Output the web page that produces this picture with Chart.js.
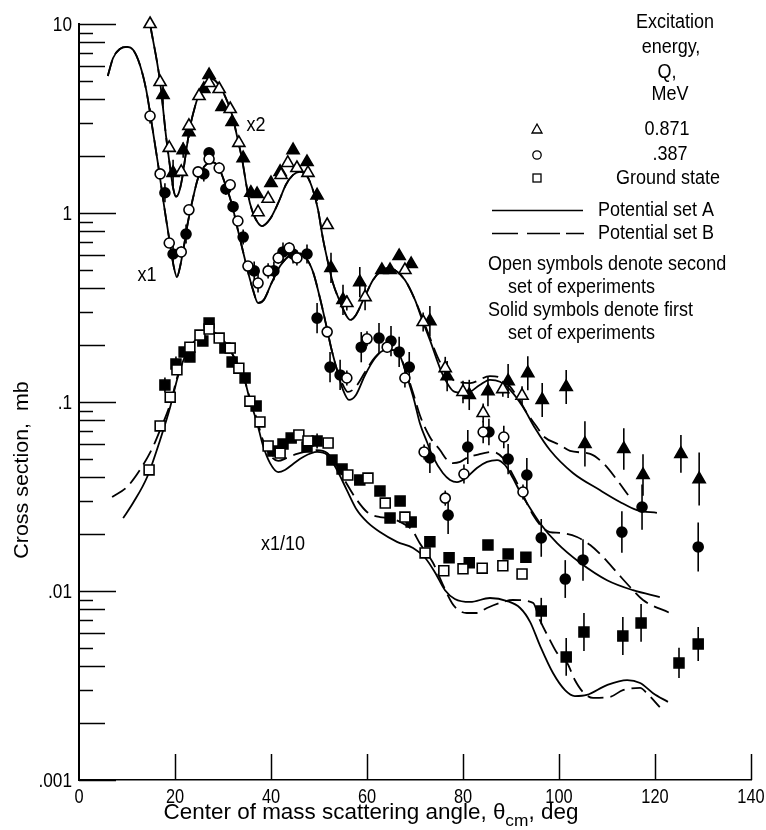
<!DOCTYPE html>
<html>
<head>
<meta charset="utf-8">
<script src="https://cdn.jsdelivr.net/npm/chart.js@4.4.0/dist/chart.umd.min.js"></script>
<style>
  html, body { margin: 0; padding: 0; background: #fff; }
</style>
</head>
<body>
<canvas id="crossSection" width="766" height="830"></canvas>
<script>
var FONT = "'Liberation Sans', Arial, sans-serif";

// tick labels
var xTicks = [0, 20, 40, 60, 80, 100, 120, 140];
var yTickValues = [0.001, 0.01, 0.1, 1, 10];
var yTickLabels = [".001", ".01", ".1", "1", "10"];

// measured points: [angle deg, cross section mb, error half-width in decades]
// Q = 0.871 MeV (plotted x2)
var triOpen = [[14.8,10,0],[16.9,4.93,0],[18.8,2.21,0],[21.3,1.65,0],[22.9,2.89,0],[25.0,4.16,0],
  [27.1,4.87,0],[29.2,4.53,0],[31.5,3.55,0],[33.3,2.35,0],[37.3,1.01,0],[39.4,1.19,0],[42.1,1.59,0],
  [43.5,1.84,0],[45.4,1.73,0],[47.7,1.63,0],[51.7,0.864,0],[55.8,0.334,0.04],[59.6,0.359,0.07],
  [67.9,0.499,0],[71.7,0.265,0.05],[76.3,0.151,0.06],[80.0,0.113,0.06],[84.2,0.0875,0.05],
  [88.3,0.117,0.04],[92.3,0.108,0.05]];
var triSolid = [[17.5,4.21,0.05],[19.6,1.63,0.07],[21.7,2.15,0.04],[22.9,2.68,0.03],[26.0,4.53,0],
  [27.1,5.37,0],[29.8,3.64,0],[31.9,3.03,0],[34.2,1.95,0],[35.8,1.28,0],[37.1,1.26,0],[40.0,1.44,0],
  [41.9,1.65,0],[44.6,2.15,0],[47.5,1.86,0],[49.6,1.24,0.03],[52.5,0.512,0.08],[55.0,0.347,0.08],
  [58.5,0.431,0.08],[63.1,0.499,0],[64.8,0.499,0],[66.7,0.592,0],[69.2,0.537,0],[73.1,0.268,0.08],
  [76.7,0.137,0.08],[81.3,0.109,0.08],[85.2,0.114,0.08],[89.4,0.129,0.09],[93.5,0.142,0.09],
  [96.5,0.1025,0.09],[101.5,0.120,0.09],[105.4,0.0600,0.12],[113.5,0.0564,0.11],[117.5,0.0411,0.11],
  [125.4,0.0531,0.1],[129.2,0.0391,0.14]];

// Q = 0.387 MeV (plotted x1)
var circOpen = [[14.8,3.26,0.04],[16.9,1.61,0],[18.8,0.694,0],[21.3,0.622,0.03],[22.9,1.04,0],
  [24.8,1.65,0],[27.1,1.93,0],[29.2,1.73,0.03],[31.5,1.41,0],[33.1,0.907,0],[35.2,0.524,0],
  [37.3,0.426,0.05],[39.4,0.494,0.04],[41.5,0.578,0.03],[43.8,0.653,0.03],[45.4,0.578,0.04],
  [51.7,0.235,0],[55.8,0.134,0.04],[60.0,0.216,0.04],[64.2,0.195,0.03],[67.9,0.134,0.05],
  [71.9,0.0544,0.04],[76.3,0.0310,0.04],[80.2,0.0416,0.05],[84.2,0.0694,0.06],[88.5,0.0653,0.06],
  [92.5,0.0334,0.04]];
var circSolid = [[17.9,1.28,0.05],[19.6,0.607,0.05],[22.3,0.774,0.05],[26.0,1.61,0.04],[27.1,2.08,0],
  [30.6,1.34,0.03],[32.1,1.08,0.03],[34.2,0.746,0.04],[36.5,0.494,0.05],[40.6,0.494,0.05],
  [42.5,0.622,0.05],[44.6,0.607,0.05],[47.5,0.607,0.05],[49.6,0.278,0.08],[52.3,0.153,0.08],
  [54.4,0.139,0.08],[58.8,0.195,0.08],[62.5,0.218,0.08],[65.0,0.210,0.08],[66.7,0.184,0.08],
  [68.8,0.153,0.08],[73.1,0.0506,0.08],[76.9,0.0252,0.1],[81.0,0.0578,0.09],[85.4,0.0694,0.07],
  [89.4,0.0499,0.08],[93.3,0.0411,0.09],[96.3,0.0191,0.1],[101.3,0.01157,0.1],[105.0,0.0146,0.11],
  [113.1,0.0205,0.11],[117.3,0.0278,0.12],[129.0,0.0171,0.13]];

// ground state (plotted x1/10)
var sqOpen = [[14.6,0.0437,0],[16.9,0.0747,0],[19.0,0.106,0],[20.4,0.148,0],[23.1,0.195,0],
  [25.2,0.226,0],[27.1,0.243,0],[29.2,0.218,0],[31.5,0.193,0],[33.3,0.151,0],[35.6,0.101,0],
  [37.7,0.0784,0],[39.4,0.0585,0],[41.9,0.0537,0],[45.8,0.0669,0],[47.7,0.0622,0],[51.9,0.0607,0],
  [56.0,0.0411,0],[60.2,0.0396,0],[63.8,0.0292,0],[67.9,0.0246,0],[72.1,0.0159,0],[76.0,0.0128,0],
  [80.0,0.0131,0],[84.0,0.0132,0],[88.3,0.0136,0],[92.3,0.0123,0]];
var sqSolid = [[17.9,0.123,0.04],[20.2,0.159,0.04],[21.9,0.184,0],[23.1,0.173,0],[25.8,0.210,0],
  [27.1,0.262,0],[30.4,0.193,0],[31.9,0.163,0],[34.6,0.134,0],[36.9,0.0952,0],[40.4,0.0551,0.03],
  [42.5,0.0600,0],[44.2,0.0645,0],[47.5,0.0578,0],[49.6,0.0622,0.04],[52.7,0.0493,0],[54.8,0.0442,0],
  [58.5,0.0387,0],[62.7,0.0338,0],[64.8,0.0243,0],[66.9,0.0299,0],[69.2,0.0232,0],[73.1,0.0182,0],
  [77.1,0.0150,0],[81.3,0.0141,0],[85.2,0.0175,0],[89.4,0.0157,0],[93.1,0.0151,0],[96.3,0.00783,0.07],
  [101.5,0.00448,0.1],[105.2,0.00607,0.1],[113.3,0.00578,0.1],[117.1,0.00678,0.1],[125.0,0.00416,0.08],
  [129.0,0.00525,0.09]];

// calculated curves: [angle deg, cross section mb]
var triSetA = [[14.8,10],[16.9,4.93],[18.1,2.59],[19.0,1.73],[19.6,1.36],[20.2,1.22],[20.8,1.28],
  [21.5,1.53],[22.3,2.10],[23.1,2.82],[24.2,3.68],[25.2,4.37],[26.5,4.93],[27.7,5.12],[29.0,4.81],
  [30.4,4.16],[31.9,3.30],[33.1,2.43],[34.0,1.91],[34.8,1.44],[35.6,1.13],[36.7,0.941],[38.1,0.853],
  [39.8,0.929],[41.5,1.13],[43.1,1.41],[44.6,1.59],[46.0,1.65],[47.5,1.57],[48.75,1.32],[49.8,1.04],
  [50.8,0.737],[51.9,0.544],[52.9,0.426],[54.4,0.338],[55.6,0.289],[56.5,0.272],[57.7,0.289],
  [59.6,0.364],[61.25,0.442],[62.7,0.488],[64.4,0.512],[65.8,0.499],[67.9,0.442],[70.0,0.347],
  [71.5,0.272],[73.1,0.213],[75.8,0.139],[78.3,0.113],[80.8,0.1117],[83.5,0.123],[85.6,0.131],
  [87.7,0.128],[89.8,0.116],[92.5,0.0941],[95.0,0.0728],[98.1,0.0557],[102.9,0.0421],[108.5,0.0342],
  [112.7,0.0296],[116.25,0.0268],[120.4,0.0259]];
var triSetB = [[14.8,10],[16.9,4.93],[18.1,2.59],[19.0,1.73],[19.6,1.36],[20.2,1.22],[20.8,1.28],
  [21.5,1.53],[22.3,2.10],[23.1,2.82],[24.2,3.68],[25.2,4.37],[26.5,4.93],[27.7,5.12],[29.0,4.81],
  [30.4,4.16],[31.9,3.30],[33.1,2.43],[34.0,1.91],[34.8,1.44],[35.6,1.13],[36.7,0.941],[38.1,0.853],
  [39.8,0.929],[41.5,1.13],[43.1,1.41],[44.6,1.59],[46.0,1.65],[47.5,1.57],[48.75,1.32],[49.8,1.04],
  [50.8,0.737],[51.9,0.544],[52.9,0.426],[54.4,0.338],[55.6,0.289],[56.5,0.272],[57.7,0.289],
  [59.6,0.364],[61.25,0.442],[62.7,0.488],[64.4,0.512],[65.8,0.499],[67.9,0.442],[70.0,0.347],
  [72.5,0.240],[75.2,0.163],[77.9,0.131],[81.5,0.126],[85.6,0.137],[88.3,0.132],[91.5,0.105],
  [93.3,0.0875],[95.4,0.0738],[96.7,0.0661],[100.2,0.0592],[102.3,0.0551],[106.5,0.0531],
  [109.2,0.0475],[112.1,0.0387],[114.4,0.0322]];

var circSetA = [[6.0,5.31],[7.1,6.61],[8.5,7.38],[10.0,7.56],[11.3,7.28],[12.7,6.07],[14.0,4.48],
  [15.2,2.92],[16.5,1.79],[17.7,1.10],[19.0,0.677],[19.8,0.512],[20.4,0.459],[21.0,0.512],[21.9,0.677],
  [22.7,0.896],[23.75,1.20],[24.8,1.53],[26.0,1.75],[27.7,1.86],[28.96,1.77],[30.4,1.44],[31.9,1.10],
  [33.1,0.813],[34.2,0.622],[35.2,0.488],[36.25,0.392],[37.3,0.334],[38.5,0.347],[40.2,0.431],
  [41.9,0.524],[44.0,0.600],[45.6,0.614],[47.3,0.578],[48.75,0.488],[50.2,0.355],[51.5,0.255],
  [52.5,0.195],[53.75,0.148],[55.0,0.116],[56.25,0.1025],[57.7,0.109],[59.6,0.139],[61.7,0.171],
  [63.75,0.188],[65.4,0.188],[66.9,0.175],[68.3,0.137],[69.8,0.1025],[71.0,0.0775],[72.5,0.0614],
  [73.75,0.0512],[75.8,0.0421],[77.3,0.0387],[78.75,0.0377],[80.8,0.0401],[82.9,0.0448],[85.0,0.0482],
  [87.1,0.0493],[88.75,0.0464],[90.4,0.0396],[91.9,0.0334],[93.3,0.0292],[96.0,0.0229],[99.6,0.0179],
  [104.4,0.0141],[110.0,0.0114],[115.4,0.0101],[121.0,0.00929]];
var circSetB = [[6.0,5.31],[7.1,6.61],[8.5,7.38],[10.0,7.56],[11.3,7.28],[12.7,6.07],[14.0,4.48],
  [15.2,2.92],[16.5,1.79],[17.7,1.10],[19.0,0.677],[19.8,0.512],[20.4,0.459],[21.0,0.512],[21.9,0.677],
  [22.7,0.896],[23.75,1.20],[24.8,1.53],[26.0,1.75],[27.7,1.86],[28.96,1.77],[30.4,1.44],[31.9,1.10],
  [33.1,0.813],[34.2,0.622],[35.2,0.488],[36.25,0.392],[37.3,0.334],[38.5,0.347],[40.2,0.431],
  [41.9,0.524],[44.0,0.600],[45.6,0.614],[47.3,0.578],[48.75,0.488],[50.2,0.355],[51.5,0.255],
  [52.5,0.195],[53.75,0.148],[55.0,0.123],[56.0,0.113],[57.5,0.119],[59.6,0.144],[61.7,0.173],
  [63.75,0.188],[65.4,0.188],[66.9,0.175],[68.3,0.141],[69.8,0.1076],[71.0,0.0853],[73.1,0.0653],
  [75.2,0.0557],[76.7,0.0493],[77.9,0.0475],[79.4,0.0482],[80.8,0.0506],[82.9,0.0525],[86.25,0.0544],
  [88.3,0.0506],[90.4,0.0411],[92.5,0.0322],[94.6,0.0252],[96.7,0.0215],[98.1,0.0205],[100.2,0.0203],
  [103.75,0.0193],[106.5,0.0175],[109.2,0.0151],[112.1,0.0125],[114.8,0.0105],[117.5,0.00896],
  [123.1,0.00765]];

var sqSetA = [[9.2,0.0243],[11.25,0.0292],[14.2,0.0401],[16.9,0.0630],[19.0,0.0941],[20.6,0.136],
  [22.5,0.184],[24.6,0.218],[26.9,0.240],[29.4,0.221],[31.5,0.188],[33.1,0.157],[34.6,0.128],
  [35.6,0.1025],[37.1,0.0775],[38.3,0.0592],[39.8,0.0475],[41.5,0.0426],[42.9,0.0437],[44.6,0.0470],
  [46.7,0.0512],[49.6,0.0544],[51.7,0.0525],[53.75,0.0437],[55.8,0.0342],[57.9,0.0268],[60.0,0.0232],
  [62.7,0.0205],[66.25,0.0182],[69.6,0.0169],[72.1,0.0150],[74.2,0.0125],[76.25,0.0101],[78.3,0.00908],
  [81.5,0.00875],[85.6,0.00918],[89.2,0.00885],[91.9,0.00813],[94.0,0.00685],[96.0,0.00517],
  [98.75,0.00368],[101.25,0.00299],[103.3,0.00278],[105.8,0.00282],[110.0,0.00318],[114.2,0.00338],
  [116.9,0.00326],[119.6,0.00288],[122.7,0.00259]];
var sqSetB = [[6.9,0.0314],[10.0,0.0355],[12.7,0.0437],[15.4,0.0578],[16.9,0.0711],[19.0,0.0976],
  [20.6,0.139],[22.5,0.186],[24.6,0.218],[26.9,0.240],[29.4,0.221],[31.5,0.188],[33.1,0.157],
  [34.6,0.128],[35.6,0.105],[37.1,0.0803],[38.3,0.0630],[39.8,0.0525],[41.5,0.0488],[43.3,0.0506],
  [45.4,0.0531],[49.6,0.0557],[51.7,0.0537],[53.75,0.0458],[55.8,0.0368],[57.9,0.0303],[60.0,0.0262],
  [62.7,0.0246],[64.8,0.0243],[66.9,0.0232],[69.4,0.0210],[71.0,0.0179],[73.75,0.0141],[75.8,0.0108],
  [77.7,0.00865],[79.0,0.00793],[80.8,0.00765],[82.9,0.00765],[85.0,0.00813],[87.7,0.00865],
  [90.4,0.00896],[94.6,0.00865],[96.0,0.00703],[98.1,0.00551],[99.6,0.00470],[101.7,0.00416],
  [103.3,0.00338],[105.0,0.00292],[107.1,0.00272],[110.6,0.00275],[113.3,0.00299],[116.9,0.00307],
  [118.3,0.00288],[121.0,0.00243]];

function xy(list) {
  return list.map(function (p) { return { x: p[0], y: p[1] }; });
}
function errs(list) {
  return list.map(function (p) { return p[2]; });
}

function pointSet(list, style, radius, filled) {
  return {
    data: xy(list),
    err: errs(list),
    showLine: false,
    pointStyle: style,
    pointRadius: radius,
    pointHoverRadius: radius,
    pointBorderWidth: 1.6,
    pointBorderColor: "#000",
    pointBackgroundColor: filled ? "#000" : "#fff",
    clip: false
  };
}
function curveSet(list, dashed) {
  return {
    data: xy(list),
    showLine: true,
    borderColor: "#000",
    borderWidth: 1.8,
    borderDash: dashed ? [16, 7] : [],
    pointRadius: 0,
    cubicInterpolationMode: "monotone",
    clip: false
  };
}

// narrow lettering: squeeze the face horizontally
function say(ctx, text, x, y, align, size, squeeze) {
  ctx.save();
  ctx.font = size + "px " + FONT;
  ctx.textAlign = align;
  ctx.textBaseline = "middle";
  ctx.translate(x, y);
  ctx.scale(squeeze, 1);
  ctx.fillText(text, 0, 0);
  ctx.restore();
}

// vertical error bars, drawn under the symbols
var errorBars = {
  id: "errorBars",
  beforeDatasetsDraw: function (chart) {
    var ctx = chart.ctx;
    var ys = chart.scales.y;
    ctx.save();
    ctx.strokeStyle = "#000";
    ctx.lineWidth = 1.6;
    chart.data.datasets.forEach(function (ds, i) {
      if (!ds.err) return;
      var meta = chart.getDatasetMeta(i);
      meta.data.forEach(function (pt, j) {
        var e = ds.err[j];
        if (!e) return;
        var v = ds.data[j].y;
        ctx.beginPath();
        ctx.moveTo(pt.x, ys.getPixelForValue(v * Math.pow(10, e)));
        ctx.lineTo(pt.x, ys.getPixelForValue(v / Math.pow(10, e)));
        ctx.stroke();
      });
    });
    ctx.restore();
  }
};

// inward tick marks, tick labels, axis titles, key and scale-factor notes
var decor = {
  id: "decor",
  afterDraw: function (chart) {
    var ctx = chart.ctx;
    var xs = chart.scales.x;
    var ys = chart.scales.y;
    var left = chart.chartArea.left;
    var bottom = chart.chartArea.bottom;
    ctx.save();
    ctx.strokeStyle = "#000";
    ctx.fillStyle = "#000";
    ctx.lineWidth = 1.5;

    for (var d = -3; d <= 1; d++) {
      for (var m = 1; m <= 9; m++) {
        var v = m * Math.pow(10, d);
        if (v > 10.0001) break;
        var len = m === 1 ? 37 : (m % 2 === 0 ? 26 : 14);
        var py = Math.round(ys.getPixelForValue(v)) + 0.5;
        ctx.beginPath();
        ctx.moveTo(left, py);
        ctx.lineTo(left + len, py);
        ctx.stroke();
      }
    }
    xs.ticks.forEach(function (t) {
      var px = xs.getPixelForValue(t.value);
      if (t.value !== 0) {
        ctx.beginPath();
        ctx.moveTo(Math.round(px) + 0.5, bottom);
        ctx.lineTo(Math.round(px) + 0.5, bottom - 26);
        ctx.stroke();
      }
      say(ctx, String(t.value), px, bottom + 17, "center", 21, 0.78);
    });
    ys.ticks.forEach(function (t, i) {
      say(ctx, yTickLabels[i], left - 7, ys.getPixelForValue(t.value) + 1, "right", 21, 0.82);
    });

    // x title with subscript
    var sq = 1.02;
    ctx.font = "22px " + FONT;
    var t1 = "Center of mass scattering angle, \u03b8";
    var t3 = ", deg";
    var w1 = ctx.measureText(t1).width * sq;
    var w3 = ctx.measureText(t3).width * sq;
    ctx.font = "17px " + FONT;
    var w2 = ctx.measureText("cm").width * sq;
    var x0 = 371 - (w1 + w2 + w3) / 2;
    say(ctx, t1, x0, 813, "left", 22, sq);
    say(ctx, "cm", x0 + w1, 821, "left", 17, sq);
    say(ctx, t3, x0 + w1 + w2, 813, "left", 22, sq);

    // y title
    ctx.save();
    ctx.translate(22, 470);
    ctx.rotate(-Math.PI / 2);
    say(ctx, "Cross section,  mb", 0, 0, "center", 21, 1.02);
    ctx.restore();

    // scale factors
    say(ctx, "x2", 256, 125, "center", 20, 0.9);
    say(ctx, "x1", 147, 275, "center", 20, 0.9);
    say(ctx, "x1/10", 283, 544, "center", 20, 0.9);

    // key
    var kq = 0.9;
    say(ctx, "Excitation", 675, 22, "center", 20, kq);
    say(ctx, "energy,", 671, 47, "center", 20, kq);
    say(ctx, "Q,", 667, 72, "center", 20, kq);
    say(ctx, "MeV", 670, 94, "center", 20, kq);
    say(ctx, "0.871", 667, 129, "center", 20, kq);
    say(ctx, ".387", 670, 154, "center", 20, kq);
    say(ctx, "Ground state", 616, 178, "left", 20, kq);
    say(ctx, "Potential set A", 598, 210, "left", 20, kq);
    say(ctx, "Potential set B", 598, 233, "left", 20, kq);
    say(ctx, "Open symbols denote second", 488, 264, "left", 20, kq);
    say(ctx, "set of experiments", 508, 287, "left", 20, kq);
    say(ctx, "Solid symbols denote first", 488, 310, "left", 20, kq);
    say(ctx, "set of experiments", 508, 333, "left", 20, kq);

    ctx.lineWidth = 1.3;
    ctx.fillStyle = "#fff";
    ctx.beginPath();
    ctx.moveTo(537, 124);
    ctx.lineTo(542, 133);
    ctx.lineTo(532, 133);
    ctx.closePath();
    ctx.fill();
    ctx.stroke();
    ctx.beginPath();
    ctx.arc(537, 155, 4.2, 0, Math.PI * 2);
    ctx.stroke();
    ctx.strokeRect(533, 174, 8, 8);

    ctx.lineWidth = 1.6;
    ctx.beginPath();
    ctx.moveTo(492, 210.5);
    ctx.lineTo(583, 210.5);
    ctx.stroke();
    ctx.setLineDash([26, 9, 33, 6]);
    ctx.beginPath();
    ctx.moveTo(492, 233.5);
    ctx.lineTo(584, 233.5);
    ctx.stroke();
    ctx.restore();
  }
};

Chart.defaults.font.family = FONT;
Chart.defaults.color = "#000";

var ctx = document.getElementById("crossSection").getContext("2d");
var chart = new Chart(ctx, {
  type: "scatter",
  data: {
    datasets: [
      pointSet(triOpen, "triangle", 7, false),
      pointSet(triSolid, "triangle", 7, true),
      pointSet(circOpen, "circle", 5, false),
      pointSet(circSolid, "circle", 5, true),
      pointSet(sqOpen, "rect", 7, false),
      pointSet(sqSolid, "rect", 7, true),
      curveSet(triSetA, false),
      curveSet(triSetB, true),
      curveSet(circSetA, false),
      curveSet(circSetB, true),
      curveSet(sqSetA, false),
      curveSet(sqSetB, true)
    ]
  },
  options: {
    responsive: false,
    devicePixelRatio: 1,
    animation: false,
    layout: { padding: { top: 24, right: 15, left: 0, bottom: 0 } },
    plugins: { legend: { display: false }, tooltip: { enabled: false } },
    scales: {
      x: {
        type: "linear",
        min: 0,
        max: 140,
        afterFit: function (scale) { scale.height = 50; },
        afterBuildTicks: function (scale) {
          scale.ticks = xTicks.map(function (v) { return { value: v }; });
        },
        ticks: { display: false },
        grid: { display: false, drawTicks: false },
        border: { display: true, color: "#000", width: 1.5 }
      },
      y: {
        type: "logarithmic",
        min: 0.001,
        max: 10,
        afterFit: function (scale) { scale.width = 79; },
        afterBuildTicks: function (scale) {
          scale.ticks = yTickValues.map(function (v) { return { value: v }; });
        },
        ticks: { display: false },
        grid: { display: false, drawTicks: false },
        border: { display: true, color: "#000", width: 2 }
      }
    }
  },
  plugins: [errorBars, decor]
});
</script>
</body>
</html>
